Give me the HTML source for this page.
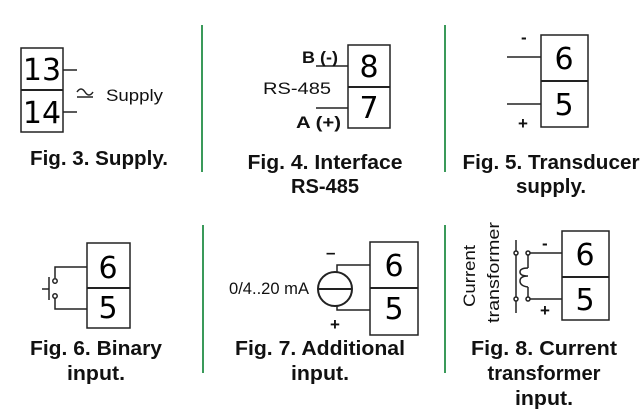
<!DOCTYPE html>
<html><head><meta charset="utf-8"><style>
html,body{margin:0;padding:0;background:#fff;width:643px;height:413px;overflow:hidden}
svg{display:block}
.d{font-family:"DejaVu Sans","Liberation Sans",sans-serif;font-size:30px;text-anchor:middle;fill:#000}
.c{font-family:"Liberation Sans",sans-serif;font-weight:bold;font-size:20px;text-anchor:middle;fill:#111}
.n{font-family:"Liberation Sans",sans-serif;font-size:17px;fill:#111}
.b{font-family:"Liberation Sans",sans-serif;font-weight:bold;font-size:17px;fill:#111}
</style></head><body>
<svg width="643" height="413" viewBox="0 0 643 413" xmlns="http://www.w3.org/2000/svg">
<g stroke="#3a9a5a" stroke-width="2">
<line x1="202" y1="25" x2="202" y2="172"/><line x1="445" y1="25" x2="445" y2="172"/>
<line x1="203" y1="225" x2="203" y2="373"/><line x1="445" y1="225" x2="445" y2="373"/>
</g>
<g fill="none" stroke="#222" stroke-width="1.5">
<rect x="21" y="48" width="42" height="84"/><line x1="21" y1="90" x2="63" y2="90" stroke-width="2"/>
<line x1="63" y1="70" x2="77" y2="70"/><line x1="63" y1="112" x2="77" y2="112"/>
<path d="M77 92 q4 -6 8 0 t8 0" /><line x1="77" y1="97" x2="93" y2="97"/>
<rect x="348" y="45" width="42" height="83"/><line x1="348" y1="87" x2="390" y2="87" stroke-width="2"/>
<line x1="316" y1="66" x2="348" y2="66"/><line x1="316" y1="108" x2="348" y2="108"/>
<rect x="541" y="35" width="47" height="92"/><line x1="541" y1="81" x2="588" y2="81" stroke-width="2"/>
<line x1="507" y1="57" x2="541" y2="57"/><line x1="507" y1="104" x2="541" y2="104"/>
<rect x="87" y="243" width="43" height="85"/><line x1="87" y1="288" x2="130" y2="288" stroke-width="2"/>
<polyline points="87,267 55,267 55,278"/><polyline points="87,309 55,309 55,298"/>
<circle cx="55" cy="281" r="2.2"/><circle cx="55" cy="296" r="2.2"/>
<line x1="49" y1="277" x2="49" y2="300"/><line x1="42" y1="289" x2="49" y2="289"/>
<rect x="370" y="242" width="48" height="93"/><line x1="370" y1="288" x2="418" y2="288" stroke-width="2"/>
<circle cx="335" cy="289" r="17" stroke-width="2"/><line x1="318" y1="289" x2="352" y2="289" stroke-width="2"/>
<polyline points="337,272 337,265 370,265"/><polyline points="337,306 337,310 370,310"/>
<rect x="562" y="231" width="47" height="89"/><line x1="562" y1="277" x2="609" y2="277" stroke-width="2"/>
<polyline points="530,253 562,253"/><polyline points="530,299 562,299"/>
<line x1="528" y1="255" x2="528" y2="268"/><line x1="528" y1="287" x2="528" y2="297"/>
<path d="M528 268 q-8 0 -8 4 q0 4 8 4 q-8 0 -8 5 q0 5 8 6"/>
<line x1="516" y1="240" x2="516" y2="313"/>
<circle cx="516" cy="253" r="2" fill="#fff"/><circle cx="528" cy="253" r="2" fill="#fff"/>
<circle cx="516" cy="299" r="2" fill="#fff"/><circle cx="528" cy="299" r="2" fill="#fff"/>
</g>
<text class="d" x="42" y="80">13</text><text class="d" x="42" y="123">14</text>
<text class="d" x="369" y="77">8</text><text class="d" x="369" y="118">7</text>
<text class="d" x="564" y="69">6</text><text class="d" x="564" y="115">5</text>
<text class="d" x="108" y="278">6</text><text class="d" x="108" y="318">5</text>
<text class="d" x="394" y="276">6</text><text class="d" x="394" y="319">5</text>
<text class="d" x="585" y="265">6</text><text class="d" x="585" y="310">5</text>
<text class="n" x="106" y="101" textLength="57" lengthAdjust="spacingAndGlyphs">Supply</text>
<text class="b" x="302" y="63" textLength="36" lengthAdjust="spacingAndGlyphs">B (-)</text>
<text class="n" x="263" y="94" textLength="68" lengthAdjust="spacingAndGlyphs">RS-485</text>
<text class="b" x="296" y="128" textLength="45" lengthAdjust="spacingAndGlyphs">A (+)</text>
<text class="b" x="521" y="43" font-size="18">-</text>
<text class="b" x="518" y="129" font-size="18">+</text>
<text class="b" x="326" y="258" font-size="20">–</text>
<text class="b" x="330" y="330" font-size="18">+</text>
<text class="n" x="229" y="294" font-size="15" textLength="80" lengthAdjust="spacingAndGlyphs">0/4..20 mA</text>
<text class="b" x="542" y="249" font-size="18">-</text>
<text class="b" x="540" y="316" font-size="18">+</text>
<text class="n" font-size="18" transform="translate(475,307) rotate(-90)" textLength="62" lengthAdjust="spacingAndGlyphs">Current</text>
<text class="n" font-size="18" transform="translate(499,323) rotate(-90)" textLength="101" lengthAdjust="spacingAndGlyphs">transformer</text>
<text class="c" x="99" y="165" textLength="138" lengthAdjust="spacingAndGlyphs">Fig. 3. Supply.</text>
<text class="c" x="325" y="169" textLength="155" lengthAdjust="spacingAndGlyphs">Fig. 4. Interface</text>
<text class="c" x="325" y="193" textLength="68" lengthAdjust="spacingAndGlyphs">RS-485</text>
<text class="c" x="551" y="169" textLength="177" lengthAdjust="spacingAndGlyphs">Fig. 5. Transducer</text>
<text class="c" x="551" y="193" textLength="70" lengthAdjust="spacingAndGlyphs">supply.</text>
<text class="c" x="96" y="355" textLength="132" lengthAdjust="spacingAndGlyphs">Fig. 6. Binary</text>
<text class="c" x="96" y="380" textLength="58" lengthAdjust="spacingAndGlyphs">input.</text>
<text class="c" x="320" y="355" textLength="170" lengthAdjust="spacingAndGlyphs">Fig. 7. Additional</text>
<text class="c" x="320" y="380" textLength="58" lengthAdjust="spacingAndGlyphs">input.</text>
<text class="c" x="544" y="355" textLength="146" lengthAdjust="spacingAndGlyphs">Fig. 8. Current</text>
<text class="c" x="544" y="380" textLength="113" lengthAdjust="spacingAndGlyphs">transformer</text>
<text class="c" x="544" y="405" textLength="58" lengthAdjust="spacingAndGlyphs">input.</text>
</svg>
</body></html>
